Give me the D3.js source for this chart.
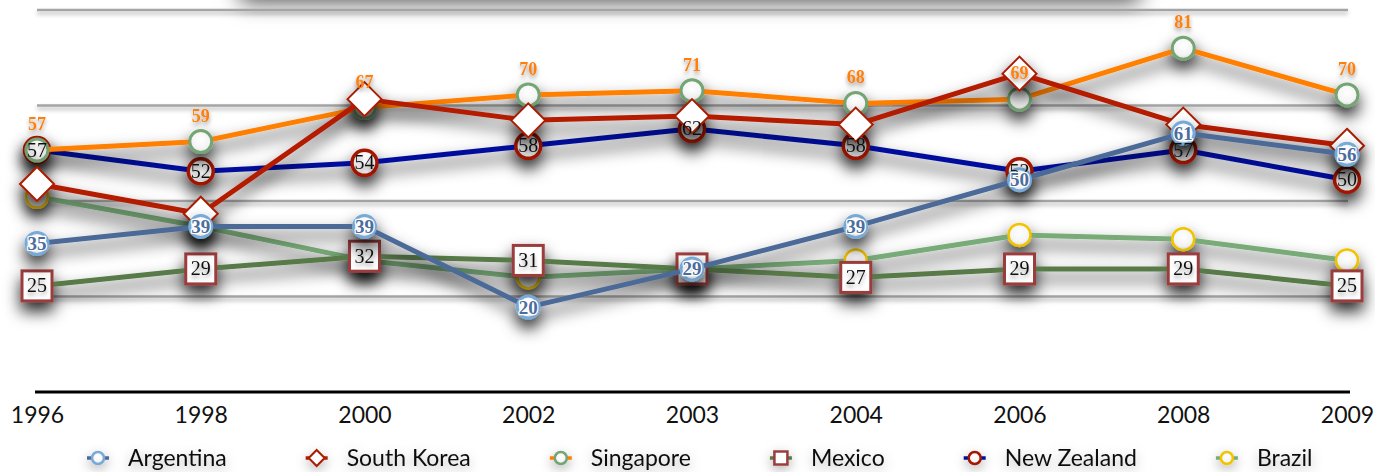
<!DOCTYPE html>
<html>
<head>
<meta charset="utf-8">
<script src="https://cdn.jsdelivr.net/npm/d3@7/dist/d3.min.js"></script>
<style>
  body { margin: 0; background: #ffffff; }
  svg { display: block; }
</style>
</head>
<body>
<svg id="chart" width="1375" height="472"></svg>
<script>
// ---- data ----
const years = ["1996", "1998", "2000", "2002", "2003", "2004", "2006", "2008", "2009"];
const argentina  = [35, 39, 39, 20, 29, 39, 50, 61, 56];
const southKorea = [49, 42, 69, 64, 65, 63, 75, 63, 58];
const singapore  = [57, 59, 67, 70, 71, 68, 69, 81, 70];
const mexico     = [25, 29, 32, 31, 29, 27, 29, 29, 25];
const newZealand = [57, 52, 54, 58, 62, 58, 52, 57, 50];
const brazil     = [46, 39, 31, 27, 29, 31, 37, 36, 31];
const gridValues = [22.5, 45, 67.5, 90];
const yDomain = [0, 90];

// ---- series styling (legend order) ----
const series = [
  { name: "Argentina",   values: argentina,  line: "#4b6b98", marker: "circle",  stroke: "#78aad8", r: 11,  sw: 3,   label: "inside-blue" },
  { name: "South Korea", values: southKorea, line: "#b41a00", marker: "diamond", stroke: "#a81c00", r: 17,  sw: 2,   label: null },
  { name: "Singapore",   values: singapore,  line: "#ff7f00", marker: "circle",  stroke: "#74a474", r: 11,  sw: 3,   label: "above" },
  { name: "Mexico",      values: mexico,     line: "#587a48", marker: "square",  stroke: "#9c3c3c", r: 15,  sw: 3,   label: "inside" },
  { name: "New Zealand", values: newZealand, line: "#00109c", marker: "circle",  stroke: "#a51400", r: 12.5,sw: 3.5, label: "inside" },
  { name: "Brazil",      values: brazil,     line: "#79ab79", marker: "circle",  stroke: "#f2c400", r: 11,  sw: 2.5, label: null }
];

const svg = d3.select("#chart");
const defs = svg.append("defs");

// blurred drop shadows built from primitives (user-space regions so nothing is clipped)
function addShadow(id, dy, std, opacity) {
  const f = defs.append("filter").attr("id", id)
    .attr("filterUnits", "userSpaceOnUse")
    .attr("x", -50).attr("y", -100).attr("width", 1500).attr("height", 700);
  f.append("feGaussianBlur").attr("in", "SourceAlpha").attr("stdDeviation", std).attr("result", "blur");
  f.append("feOffset").attr("in", "blur").attr("dx", 0).attr("dy", dy).attr("result", "off");
  f.append("feFlood").attr("flood-color", "#000").attr("flood-opacity", opacity).attr("result", "col");
  f.append("feComposite").attr("in", "col").attr("in2", "off").attr("operator", "in").attr("result", "shadow");
  const m = f.append("feMerge");
  m.append("feMergeNode").attr("in", "shadow");
  m.append("feMergeNode").attr("in", "SourceGraphic");
}
addShadow("shadow", 9, 8, 0.85);
addShadow("lightShadow", 3, 2, 0.3);
addShadow("boxShadow", 6, 11, 0.7);
addShadow("textShadow", 3, 2, 0.4);
addShadow("legendShadow", 4, 6, 0.3);

const grad = defs.append("radialGradient").attr("id", "markerFill")
  .attr("cx", "50%").attr("cy", "40%").attr("r", "60%");
grad.append("stop").attr("offset", "0%").attr("stop-color", "#ffffff");
grad.append("stop").attr("offset", "70%").attr("stop-color", "#f4f4f4");
grad.append("stop").attr("offset", "100%").attr("stop-color", "#d8d8d8");

// ---- scales ----
const x = d3.scalePoint().domain(years).range([37, 1347]);
const y = d3.scaleLinear().domain(yDomain).range([392, 10]);

// box above the plot (mostly outside the view), only its shadow shows
svg.append("rect").attr("x", 240).attr("y", -60).attr("width", 900).attr("height", 56)
  .attr("fill", "#ffffff").attr("filter", "url(#boxShadow)");

// ---- gridlines ----
svg.append("g").attr("filter", "url(#lightShadow)")
  .selectAll("line").data(gridValues).join("line")
  .attr("x1", 37).attr("x2", 1348)
  .attr("y1", d => y(d)).attr("y2", d => y(d))
  .attr("stroke", "#a4a4a4").attr("stroke-width", 2.5);

// ---- axis ----
const axis = svg.append("g").attr("transform", `translate(0,${y(0)})`)
  .call(d3.axisBottom(x).tickSize(0).tickPadding(15));
axis.select(".domain").attr("stroke", "#000").attr("stroke-width", 3)
  .attr("d", `M35,0H1350`);
axis.selectAll("text").attr("font-family", "Lato, 'Open Sans', sans-serif")
  .attr("font-size", 23).attr("fill", "#111");

// ---- marker shape helper ----
function drawMarker(sel, s, cx, cy) {
  const fill = "url(#markerFill)";
  if (s.marker === "circle") {
    sel.append("circle").attr("cx", cx).attr("cy", cy).attr("r", s.r)
      .attr("fill", fill).attr("stroke", s.stroke).attr("stroke-width", s.sw);
  } else if (s.marker === "diamond") {
    const h = s.r;
    sel.append("path").attr("d", `M${cx},${cy - h}L${cx + h},${cy}L${cx},${cy + h}L${cx - h},${cy}Z`)
      .attr("fill", "#ffffff").attr("stroke", s.stroke).attr("stroke-width", s.sw);
  } else if (s.marker === "square") {
    const h = s.r;
    sel.append("rect").attr("x", cx - h).attr("y", cy - h).attr("width", 2 * h).attr("height", 2 * h)
      .attr("fill", "#ffffff").attr("stroke", s.stroke).attr("stroke-width", s.sw);
  }
}

// ---- series (drawn last-to-first so earlier legend entries sit on top) ----
const lineGen = d3.line().x((d, i) => x(years[i])).y(d => y(d));
const plot = svg.append("g");
series.slice().reverse().forEach(s => {
  const g = plot.append("g").attr("filter", "url(#shadow)");
  g.append("path").datum(s.values).attr("d", lineGen)
    .attr("fill", "none").attr("stroke", s.line).attr("stroke-width", 5)
    .attr("stroke-linejoin", "round");
  s.values.forEach((v, i) => drawMarker(g, s, x(years[i]), y(v)));
});

// ---- data labels ----
const labels = svg.append("g");
const serif = "'Liberation Serif', 'DejaVu Serif', serif";
["New Zealand", "Mexico", "Argentina", "Singapore"].forEach(name => {
  const s = series.find(d => d.name === name);
  const g = labels.append("g");
  s.values.forEach((v, i) => {
    const t = g.append("text").attr("x", x(years[i])).attr("text-anchor", "middle")
      .attr("font-family", serif).text(v);
    if (s.label === "above") {
      t.attr("y", y(v) - 20).attr("font-size", 18).attr("font-weight", "bold")
        .attr("fill", "#ff7f0e").attr("filter", "url(#textShadow)");
    } else if (s.label === "inside-blue") {
      t.attr("y", y(v) + 6.5).attr("font-size", 19).attr("font-weight", "bold")
        .attr("fill", "#4b6d9c").attr("stroke", "#ffffff").attr("stroke-width", 2.5)
        .attr("paint-order", "stroke").attr("stroke-linejoin", "round");
    } else {
      t.attr("y", y(v) + 6.5).attr("font-size", 20).attr("fill", "#111")
        .attr("filter", "url(#textShadow)");
    }
  });
});

// ---- legend ----
const legend = svg.append("g").attr("transform", "translate(0,458)");
let lx = 98;
series.forEach(s => {
  const item = legend.append("g").attr("filter", "url(#legendShadow)");
  item.append("line").attr("x1", lx - 11).attr("x2", lx + 11).attr("y1", 0).attr("y2", 0)
    .attr("stroke", s.line).attr("stroke-width", 3.5);
  const ms = { ...s,
    r: s.marker === "diamond" ? 8 : (s.marker === "square" ? 6.5 : 6),
    sw: s.marker === "diamond" ? 2 : 2.5 };
  drawMarker(item, ms, lx, 0);
  const t = item.append("text").attr("x", lx + 30).attr("y", 8)
    .attr("font-family", "Lato, 'Open Sans', sans-serif").attr("font-size", 23)
    .attr("fill", "#111").text(s.name);
  lx = lx + 30 + t.node().getComputedTextLength() + 90;
});
</script>
</body>
</html>
